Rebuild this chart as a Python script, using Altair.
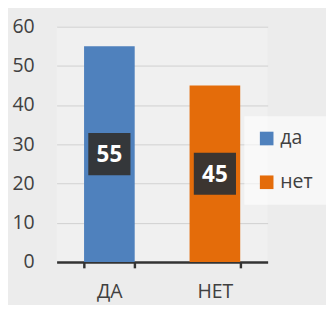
import altair as alt
import pandas as pd

categories = ["ДА", "НЕТ"]
series = ["да", "нет"]
values = [55, 45]
y_ticks = [0, 10, 20, 30, 40, 50, 60]

df = pd.DataFrame({"cat": categories, "series": series, "value": values})

colors = ["#4f81bd", "#e46c0a"]

base = alt.Chart(df).encode(
    x=alt.X("cat:N", sort=categories, title=None,
            scale=alt.Scale(paddingInner=0.52, paddingOuter=0.26),
            axis=alt.Axis(labelAngle=0, labelFontSize=20, labelColor="#404040",
                          labelFont="Open Sans", labelPadding=14,
                          domainColor="#333333", domainWidth=2.5,
                          tickColor="#333333", tickWidth=2.5, tickSize=6,
                          tickBand="extent", grid=False)),
)

bars = base.mark_bar().encode(
    y=alt.Y("value:Q", title=None,
            scale=alt.Scale(domain=[0, 60]),
            axis=alt.Axis(values=y_ticks, labelFontSize=20, labelColor="#404040",
                          labelFont="Open Sans", labelPadding=23,
                          domain=False, ticks=False,
                          gridColor="#d0d0d0", gridWidth=1)),
    color=alt.Color("series:N", scale=alt.Scale(domain=series, range=colors),
                    legend=alt.Legend(title=None, orient="none", legendX=193, legendY=92,
                                      symbolType="square", symbolSize=196,
                                      symbolStrokeWidth=0,
                                      labelFontSize=20, labelColor="#404040",
                                      labelFont="Open Sans", rowPadding=25,
                                      fillColor="rgba(255,255,255,0.6)",
                                      padding=13, labelOffset=4)),
)

boxes = base.transform_calculate(mid="datum.value / 2").mark_point(
    shape="square", filled=True, size=1880, color="#333333", opacity=0.95
).encode(y=alt.Y("mid:Q"))

labels = base.transform_calculate(mid="datum.value / 2").mark_text(
    color="white", fontSize=23, fontWeight="bold", font="Open Sans", dy=1
).encode(y=alt.Y("mid:Q"), text=alt.Text("value:Q"))

chart = alt.layer(bars, boxes, labels).properties(
    width=217, height=242,
    autosize=alt.AutoSizeParams(type="none"),
    padding={"left": 50, "top": 15, "right": 60, "bottom": 40},
    background="#ececec",
).configure_view(stroke=None, fill="#f0f0f0")

chart.save("out.html", embed_options={"renderer": "svg", "actions": False})
